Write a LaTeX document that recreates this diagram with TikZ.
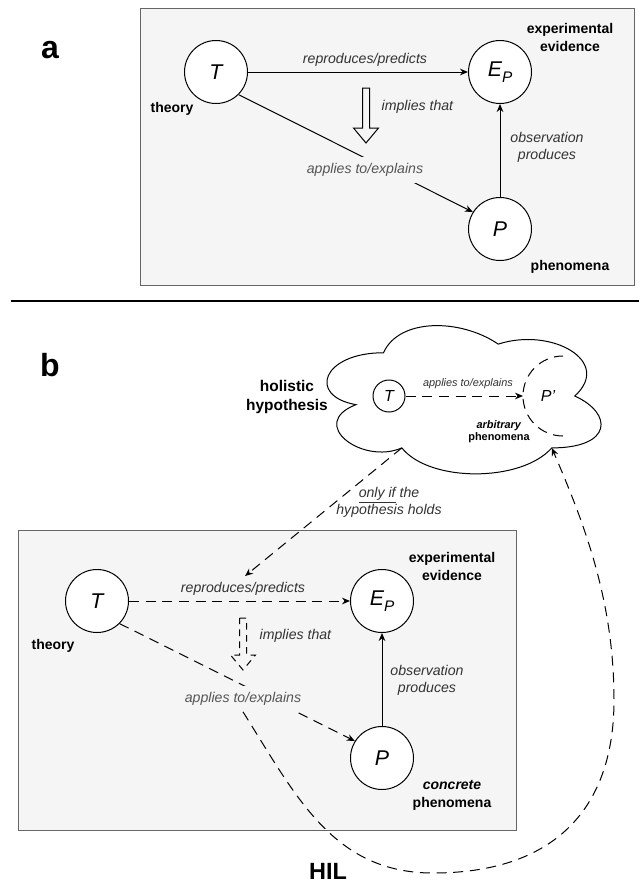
\documentclass[tikz,border=0pt]{standalone}
\usepackage{fontspec}
\setmainfont{Liberation Sans}
\usetikzlibrary{arrows.meta}

\definecolor{boxfill}{HTML}{F5F5F5}
\definecolor{boxline}{HTML}{666666}
\definecolor{lbltext}{HTML}{333333}
\definecolor{lblgray}{HTML}{555555}

\newcommand\lowsub[1]{\raisebox{-5pt}{\fontsize{11.5}{11.5}\selectfont #1}}
\def\blockarrow[#1](#2,#3,#4){\draw[#1] (#2-3.5,#3) -- (#2+3.5,#3) -- (#2+3.5,#4-15) -- (#2+12.5,#4-15) -- (#2,#4) -- (#2-12.5,#4-15) -- (#2-3.5,#4-15) -- cycle;}

\begin{document}
\begin{tikzpicture}[x=0.75pt,y=-0.75pt,
  panel/.style={draw=boxline,fill=boxfill,line width=0.75pt},
  var/.style={circle,draw,fill=white,line width=0.75pt,minimum size=47.25pt,inner sep=0pt,font=\fontsize{16}{16}\selectfont\itshape},
  smallvar/.style={circle,draw,fill=white,line width=0.75pt,minimum size=24pt,inner sep=0pt,font=\fontsize{12}{12}\selectfont\itshape},
  heading/.style={font=\fontsize{24}{24}\selectfont\bfseries},
  tag/.style={align=center,font=\fontsize{10.5}{13.5}\selectfont\bfseries},
  edgelbl/.style={text=lbltext,align=center,font=\fontsize{10.6}{12.75}\selectfont\itshape},
  cutlbl/.style={edgelbl,text=lblgray,fill=boxfill,inner xsep=1pt,inner ysep=4.5pt},
  conn/.style={line width=0.75pt,-{Stealth[length=6pt,width=5pt]}},
  dashconn/.style={conn,dash pattern=on 7.5pt off 5pt}]
\useasboundingbox (0,0) rectangle (639,882);

%%%%% panel a %%%%%
\draw[panel] (140,8) rectangle (634,285);
\node[heading] (labA) at (50,50) {a};

\node[var] (TA) at (216,72) {T};
\node[var] (EA) at (500,72) {E\lowsub{P}};
\node[var] (PA) at (500,229) {P};
\node[tag] (thA) at (172,109) {theory};
\node[tag] (evA) at (570,37) {experimental\\evidence};
\node[tag] (phA) at (570,267) {phenomena};

\draw[conn] (TA) -- (EA);
\node[edgelbl] (rpA) at (365,60) {reproduces/predicts};
\draw[conn] (TA.-45) -- (PA.148);
\node[cutlbl] (apA) at (365,170) {applies to/explains};
\draw[conn] (PA) -- (EA);
\node[edgelbl] (obA) at (547,147) {observation\\produces};

\blockarrow[line width=0.75pt](366,88,143)
\node[edgelbl,anchor=west] (imA) at (377,107) {implies that};

%%%%% separator %%%%%
\draw[line width=2pt] (11,301) -- (639,301);

%%%%% panel b %%%%%
\node[heading] (labB) at (50,365) {b};

% holistic hypothesis cloud
\begin{scope}[shift={(307,309.5)},xscale=306,yscale=173]
\draw[line width=0.75pt,fill=white] (0.25,0.25) .. controls (0.05,0.25) and (0,0.5) .. (0.16,0.55)
  .. controls (0,0.66) and (0.18,0.9) .. (0.31,0.8)
  .. controls (0.4,1) and (0.7,1) .. (0.8,0.8)
  .. controls (1,0.8) and (1,0.6) .. (0.875,0.5)
  .. controls (1,0.3) and (0.8,0.1) .. (0.625,0.2)
  .. controls (0.5,0.05) and (0.3,0.05) .. (0.25,0.25) -- cycle;
\coordinate (cloudsw) at (0.31,0.8);
\coordinate (cloudse) at (0.8,0.8);
\end{scope}
\node[tag,font=\fontsize{11.6}{14.25}\selectfont\bfseries] (hol) at (287,396.5) {holistic\\hypothesis};
\draw[line width=0.75pt,dash pattern=on 7.5pt off 5pt] (563,436) arc (90:270:40);
\coordinate (arcw) at (523,396);
\node[smallvar] (TH) at (389,396) {T};
\node[font=\fontsize{12}{12}\selectfont\itshape] (PH) at (548,396) {P'};
\draw[dashconn] (TH) -- (arcw);
\node[edgelbl,font=\fontsize{8.2}{9.5}\selectfont\itshape] (apH) at (468,384) {applies to/explains};
\node[tag,font=\fontsize{8.2}{9}\selectfont\bfseries] (arb) at (499,432) {\textit{arbitrary}\\phenomena};

% concrete situation
\draw[panel] (18,530) rectangle (516,830);
\node[var] (TB) at (97,601) {T};
\node[var] (EB) at (382,601) {E\lowsub{P}};
\node[var] (PB) at (382,758) {P};
\node[tag] (thB) at (53,646) {theory};
\node[tag] (evB) at (452,566) {experimental\\evidence};
\node[tag] (phB) at (452,795) {\textit{concrete}\\phenomena};

\draw[dashconn] (TB) -- (EB);
\node[edgelbl] (rpB) at (243,589) {reproduces/predicts};
\draw[dashconn] (TB.-45) -- (PB.148);
\node[cutlbl] (apB) at (243,699) {applies to/explains};
\draw[conn] (PB) -- (EB);
\node[edgelbl] (obB) at (427,680) {observation\\produces};

\blockarrow[line width=0.75pt,dash pattern=on 5pt off 4pt](243,618,670)
\node[edgelbl,anchor=west] (imB) at (255,636) {implies that};

% hypothesis -> theory
\draw[dashconn,shorten >=2pt] (cloudsw) -- (rpB.north);
\node[edgelbl] (oif) at (389,502) {\underline{only if} the\\hypothesis holds};

% HIL loop
\coordinate (hilbot) at (433,873);
\coordinate (hilrt) at (614,700);
\draw[dashconn] (apB.south) .. controls (296,796) and (333,873) .. (hilbot)
  .. controls (551,873) and (614,812) .. (hilrt)
  .. controls (614,600) and (584,523) .. (cloudse);
\node[font=\fontsize{17.6}{17.6}\selectfont\bfseries] (hil) at (328,871) {HIL};
\end{tikzpicture}
\end{document}
